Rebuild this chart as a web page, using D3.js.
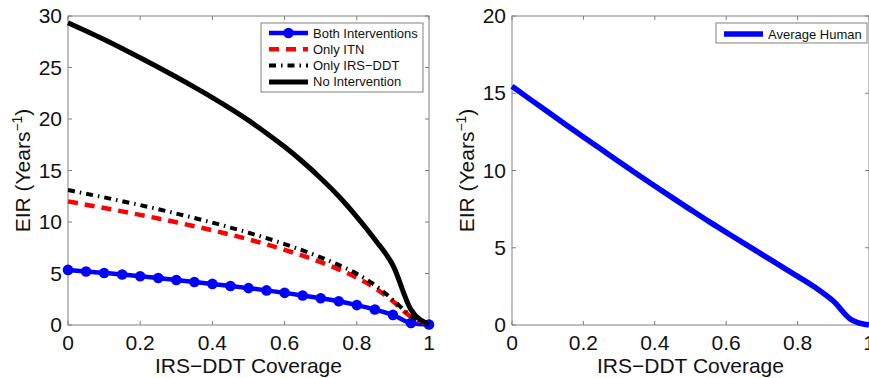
<!DOCTYPE html>
<html>
<head>
<meta charset="utf-8">
<script src="https://cdn.jsdelivr.net/npm/d3@7"></script>
<style>
  html, body { margin: 0; padding: 0; background: #fff; }
  svg { display: block; font-family: "Liberation Sans", Arial, Helvetica, sans-serif; }
</style>
</head>
<body>
<svg id="chart" width="869" height="378"></svg>
<script>
// IRS-DDT coverage levels (shared by all curves)
const coverage = [0, 0.05, 0.1, 0.15, 0.2, 0.25, 0.3, 0.35, 0.4, 0.45, 0.5,
                  0.55, 0.6, 0.65, 0.7, 0.75, 0.8, 0.85, 0.9, 0.95, 1];

// Left panel: EIR under each intervention scenario
const bothInterventions = [5.35, 5.2, 5.05, 4.9, 4.74, 4.56, 4.37, 4.18, 3.99, 3.79, 3.58,
                           3.36, 3.12, 2.87, 2.6, 2.3, 1.93, 1.5, 0.98, 0.2, 0.05];
const onlyITN = [12.0, 11.68, 11.36, 11.03, 10.69, 10.34, 9.97, 9.59, 9.19, 8.77, 8.32,
                 7.83, 7.3, 6.73, 6.1, 5.4, 4.6, 3.6, 2.3, 0.8, 0.1];
const onlyIRS = [13.1, 12.75, 12.39, 12.02, 11.64, 11.24, 10.82, 10.39, 9.94, 9.46, 8.96,
                 8.43, 7.86, 7.24, 6.57, 5.83, 4.98, 3.88, 2.45, 0.9, 0.1];
const noIntervention = [29.35, 28.55, 27.72, 26.85, 25.95, 25.03, 24.08, 23.1, 22.08, 21.0, 19.86,
                        18.62, 17.3, 15.85, 14.25, 12.5, 10.5, 8.3, 5.8, 1.5, 0.1];

// Right panel: EIR of the average human
const averageHuman = [15.45, 14.62, 13.8, 12.98, 12.17, 11.37, 10.57, 9.78, 9.0, 8.23, 7.47,
                      6.72, 6.0, 5.28, 4.57, 3.86, 3.15, 2.42, 1.55, 0.35, 0.0];

// Tick values
const xTicks = [0, 0.2, 0.4, 0.6, 0.8, 1];
const yTicksLeft = [0, 5, 10, 15, 20, 25, 30];
const yTicksRight = [0, 5, 10, 15, 20];

const svg = d3.select("#chart");
const axisColor = "#808080";
const fontSize = 21;

function panel(opts) {
  const { left, right, top, bottom, yMax, yTicks, series, legend } = opts;
  const x = d3.scaleLinear().domain([0, 1]).range([left, right]);
  const y = d3.scaleLinear().domain([0, yMax]).range([bottom, top]);
  const g = svg.append("g");

  // box
  g.append("rect")
    .attr("x", left).attr("y", top)
    .attr("width", right - left).attr("height", bottom - top)
    .attr("fill", "none").attr("stroke", axisColor).attr("stroke-width", 1);

  const tickLen = 4;
  // inward ticks on all four sides
  xTicks.forEach(t => {
    const px = x(t);
    g.append("line").attr("x1", px).attr("x2", px).attr("y1", bottom).attr("y2", bottom - tickLen)
      .attr("stroke", axisColor);
    g.append("line").attr("x1", px).attr("x2", px).attr("y1", top).attr("y2", top + tickLen)
      .attr("stroke", axisColor);
  });
  yTicks.forEach(t => {
    const py = y(t);
    g.append("line").attr("x1", left).attr("x2", left + tickLen).attr("y1", py).attr("y2", py)
      .attr("stroke", axisColor);
    g.append("line").attr("x1", right).attr("x2", right - tickLen).attr("y1", py).attr("y2", py)
      .attr("stroke", axisColor);
  });

  // tick labels
  g.selectAll(".xt").data(xTicks).enter().append("text")
    .attr("x", d => x(d)).attr("y", bottom + 25)
    .attr("text-anchor", "middle").attr("font-size", fontSize).attr("fill", "#111")
    .text(d => d3.format("")(d));
  g.selectAll(".yt").data(yTicks).enter().append("text")
    .attr("x", left - 6).attr("y", d => y(d) + 7)
    .attr("text-anchor", "end").attr("font-size", fontSize).attr("fill", "#111")
    .text(d => d);

  // axis titles
  g.append("text")
    .attr("x", (left + right) / 2)
    .attr("y", 373)
    .attr("text-anchor", "middle").attr("font-size", fontSize).attr("fill", "#111")
    .text("IRS\u2212DDT Coverage");
  const yl = g.append("text")
    .attr("transform", `translate(${left - 38},${(top + bottom) / 2}) rotate(-90)`)
    .attr("text-anchor", "middle").attr("font-size", fontSize).attr("fill", "#111");
  yl.append("tspan").text("EIR (Years");
  yl.append("tspan").attr("dy", -8).attr("font-size", 14).text("\u22121");
  yl.append("tspan").attr("dy", 8).text(")");

  // data lines
  series.forEach(s => {
    const pts = coverage.map((c, i) => [c, s.values[i]]);
    const line = d3.line().x(d => x(d[0])).y(d => y(d[1])).curve(d3.curveMonotoneX);
    g.append("path").datum(pts)
      .attr("d", line).attr("fill", "none")
      .attr("stroke", s.color).attr("stroke-width", s.width)
      .attr("stroke-dasharray", s.dash || null)
      .attr("stroke-linejoin", "round");
    if (s.markers) {
      g.selectAll(null).data(pts).enter().append("circle")
        .attr("cx", d => x(d[0])).attr("cy", d => y(d[1])).attr("r", 5.3)
        .attr("fill", s.color);
    }
  });

  // legend
  const lg = g.append("g");
  lg.append("rect")
    .attr("x", legend.x).attr("y", legend.y)
    .attr("width", legend.w).attr("height", legend.h)
    .attr("fill", "#fff").attr("stroke", axisColor).attr("stroke-width", 1);
  series.forEach((s, i) => {
    const cy = legend.y + legend.rowStart + i * legend.rowStep;
    const x1 = legend.x + 8, x2 = legend.x + 47;
    lg.append("line").attr("x1", x1).attr("x2", x2).attr("y1", cy).attr("y2", cy)
      .attr("stroke", s.color).attr("stroke-width", s.width)
      .attr("stroke-dasharray", s.dash || null);
    if (s.markers) {
      lg.append("circle").attr("cx", (x1 + x2) / 2).attr("cy", cy).attr("r", 5.3).attr("fill", s.color);
    }
    lg.append("text").attr("x", legend.x + 52).attr("y", cy + 4.5)
      .attr("font-size", 13).attr("fill", "#111").text(s.name);
  });
}

panel({
  left: 68, right: 429, top: 16, bottom: 325, yMax: 30, yTicks: yTicksLeft,
  series: [
    { name: "Both Interventions", values: bothInterventions, color: "#0000ff", width: 4.5, markers: true },
    { name: "Only ITN", values: onlyITN, color: "#ff0000", width: 4.5, dash: "10,7" },
    { name: "Only IRS\u2212DDT", values: onlyIRS, color: "#000000", width: 4, dash: "7,5,1.5,5" },
    { name: "No Intervention", values: noIntervention, color: "#000000", width: 5 }
  ],
  legend: { x: 261, y: 23, w: 162, h: 69, rowStart: 10, rowStep: 16.3 }
});

panel({
  left: 512, right: 869, top: 16, bottom: 325, yMax: 20, yTicks: yTicksRight,
  series: [
    { name: "Average Human", values: averageHuman, color: "#0000ff", width: 5.5 }
  ],
  legend: { x: 716, y: 23, w: 151, h: 20, rowStart: 11, rowStep: 16 }
});
</script>
</body>
</html>
